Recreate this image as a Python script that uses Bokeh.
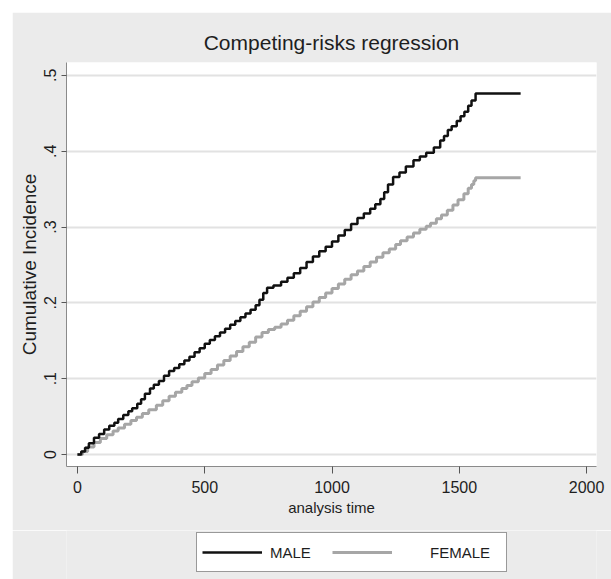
from bokeh.plotting import figure
from bokeh.models import Range1d, FixedTicker, Legend, LegendItem, ColumnDataSource
from bokeh.layouts import column
from bokeh.embed import file_html
from bokeh.resources import INLINE

# ---- data ----
male_t = [0, 15, 30, 45, 65, 85, 105, 125, 145, 160, 180, 200, 215, 235, 250, 265,
          285, 300, 320, 340, 360, 380, 400, 420, 440, 460, 480, 500, 520, 540, 560,
          580, 600, 620, 640, 660, 680, 700, 715, 730, 745, 770, 800, 825, 850, 875,
          900, 925, 950, 975, 1000, 1025, 1050, 1075, 1100, 1125, 1150, 1170, 1190,
          1205, 1220, 1240, 1265, 1290, 1320, 1345, 1370, 1400, 1425, 1440, 1455,
          1470, 1490, 1505, 1520, 1535, 1548, 1564, 1741]
male_v = [0.000, 0.004, 0.009, 0.015, 0.022, 0.027, 0.033, 0.038, 0.042, 0.047,
          0.052, 0.057, 0.061, 0.067, 0.073, 0.080, 0.087, 0.092, 0.097, 0.104,
          0.110, 0.114, 0.119, 0.124, 0.129, 0.135, 0.140, 0.146, 0.151, 0.156,
          0.161, 0.166, 0.171, 0.176, 0.181, 0.186, 0.191, 0.197, 0.204, 0.213,
          0.220, 0.223, 0.228, 0.233, 0.239, 0.246, 0.254, 0.261, 0.268, 0.274,
          0.281, 0.289, 0.296, 0.304, 0.312, 0.318, 0.324, 0.330, 0.337, 0.346,
          0.356, 0.366, 0.372, 0.380, 0.388, 0.393, 0.398, 0.405, 0.414, 0.420,
          0.428, 0.433, 0.440, 0.446, 0.452, 0.460, 0.467, 0.476, 0.476]
female_t = [0, 20, 40, 65, 90, 115, 140, 160, 185, 210, 232, 255, 280, 310, 335,
            360, 385, 410, 430, 450, 475, 500, 525, 550, 575, 600, 625, 650, 675,
            700, 725, 750, 775, 800, 825, 850, 875, 900, 925, 950, 975, 1000, 1025,
            1050, 1075, 1100, 1125, 1150, 1175, 1200, 1225, 1250, 1269, 1295, 1320,
            1345, 1370, 1387, 1410, 1430, 1453, 1475, 1495, 1518, 1535, 1548, 1557,
            1564, 1741]
female_v = [0.000, 0.004, 0.010, 0.016, 0.021, 0.026, 0.031, 0.035, 0.040, 0.045,
            0.049, 0.054, 0.059, 0.065, 0.071, 0.077, 0.082, 0.087, 0.091, 0.096,
            0.101, 0.107, 0.112, 0.118, 0.124, 0.130, 0.136, 0.142, 0.148, 0.155,
            0.161, 0.165, 0.168, 0.172, 0.177, 0.183, 0.189, 0.195, 0.201, 0.207,
            0.213, 0.219, 0.225, 0.231, 0.237, 0.242, 0.248, 0.254, 0.260, 0.266,
            0.271, 0.277, 0.282, 0.287, 0.292, 0.297, 0.301, 0.305, 0.311, 0.316,
            0.322, 0.329, 0.336, 0.344, 0.351, 0.356, 0.361, 0.365, 0.365]

x_ticks = [0, 500, 1000, 1500, 2000]
y_ticks = [0, 0.1, 0.2, 0.3, 0.4, 0.5]
y_tick_labels = ["0", ".1", ".2", ".3", ".4", ".5"]
series_names = ["MALE", "FEMALE"]

title_text = "Competing-risks regression"
x_title = "analysis time"
y_title = "Cumulative Incidence"

SANS = "Liberation Sans"
BG = "#ebebeb"
AXIS_C = "#8a8a8a"
TXT = "#1e1e1e"

p = figure(width=599, height=518, output_backend="svg", toolbar_location=None,
           x_range=Range1d(-43, 2039), y_range=Range1d(-0.0158, 0.517),
           min_border_left=54, min_border_right=15, min_border_top=50,
           min_border_bottom=64)
p.margin = (12, 0, 0, 12)
p.border_fill_color = BG
p.background_fill_color = "white"
p.outline_line_color = None

p.title.text = title_text
p.title.align = "center"
p.title.text_font = SANS
p.title.text_font_size = "21px"
p.title.text_font_style = "normal"
p.title.text_color = TXT
p.title.standoff = 18

# grid
p.xgrid.grid_line_color = None
p.ygrid.grid_line_color = "#e2e2e2"
p.ygrid.grid_line_width = 2
p.ygrid.ticker = FixedTicker(ticks=y_ticks)

# x axis
xa = p.xaxis[0]
xa.ticker = FixedTicker(ticks=x_ticks)
xa.axis_line_color = AXIS_C
xa.major_tick_line_color = "#555555"
xa.major_tick_out = 7
xa.major_tick_in = 0
xa.minor_tick_line_color = None
xa.major_label_text_font = SANS
xa.major_label_text_font_size = "16px"
xa.major_label_text_color = TXT
xa.major_label_standoff = 7
xa.axis_label = x_title
xa.axis_label_text_font = SANS
xa.axis_label_text_font_size = "15px"
xa.axis_label_text_font_style = "normal"
xa.axis_label_text_color = TXT
xa.axis_label_standoff = 3

# y axis
ya = p.yaxis[0]
ya.ticker = FixedTicker(ticks=y_ticks)
ya.major_label_overrides = {t: l for t, l in zip(y_ticks, y_tick_labels)}
ya.major_label_orientation = "vertical"
ya.axis_line_color = AXIS_C
ya.major_tick_line_color = "#555555"
ya.major_tick_out = 5
ya.major_tick_in = 0
ya.minor_tick_line_color = None
ya.major_label_text_font = SANS
ya.major_label_text_font_size = "16px"
ya.major_label_text_color = TXT
ya.major_label_standoff = 5
ya.axis_label = y_title
ya.axis_label_text_font = SANS
ya.axis_label_text_font_size = "19px"
ya.axis_label_text_font_style = "normal"
ya.axis_label_text_color = TXT
ya.axis_label_standoff = 2

src_m = ColumnDataSource(dict(t=male_t, v=male_v))
src_f = ColumnDataSource(dict(t=female_t, v=female_v))
MALE_STYLE = dict(line_color="#111111", line_width=2.5)
FEMALE_STYLE = dict(line_color="#a6a6a6", line_width=3)
p.step("t", "v", source=src_f, mode="after", **FEMALE_STYLE)
p.step("t", "v", source=src_m, mode="after", **MALE_STYLE)

# ---- legend strip below the plot (its frame is aligned with the main frame) ----
leg_fig = figure(width=599, height=49, output_backend="svg", toolbar_location=None,
                 x_axis_location=None, y_axis_location=None,
                 min_border=0, x_range=Range1d(-3000, -2900), y_range=Range1d(-3, -2))
leg_fig.margin = (0, 0, 0, 12)
leg_fig.border_fill_color = BG
leg_fig.background_fill_color = BG
leg_fig.outline_line_color = None
leg_fig.grid.visible = False

# same series, drawn off-range here, only to supply the legend samples
lm = leg_fig.step("t", "v", source=src_m, mode="after", **MALE_STYLE)
lf = leg_fig.step("t", "v", source=src_f, mode="after", **FEMALE_STYLE)

leg1 = Legend(items=[LegendItem(label=series_names[0], renderers=[lm])],
              location=(130, 7), orientation="horizontal",
              glyph_width=60, glyph_height=28, padding=5, label_standoff=8,
              label_width=231, margin=0,
              border_line_color="#333333", border_line_width=1,
              background_fill_color="white", background_fill_alpha=1,
              label_text_font=SANS, label_text_font_size="15px",
              label_text_color=TXT)
leg2 = Legend(items=[LegendItem(label=series_names[1], renderers=[lf])],
              location=(261, 8), orientation="horizontal",
              glyph_width=60, glyph_height=28, padding=5, label_standoff=38,
              margin=0, border_line_alpha=0, background_fill_alpha=0,
              label_text_font=SANS, label_text_font_size="15px",
              label_text_color=TXT)
leg_fig.add_layout(leg1, "center")
leg_fig.add_layout(leg2, "center")

layout = column(p, leg_fig, spacing=0)
open("out.html", "w").write(file_html(layout, INLINE))
